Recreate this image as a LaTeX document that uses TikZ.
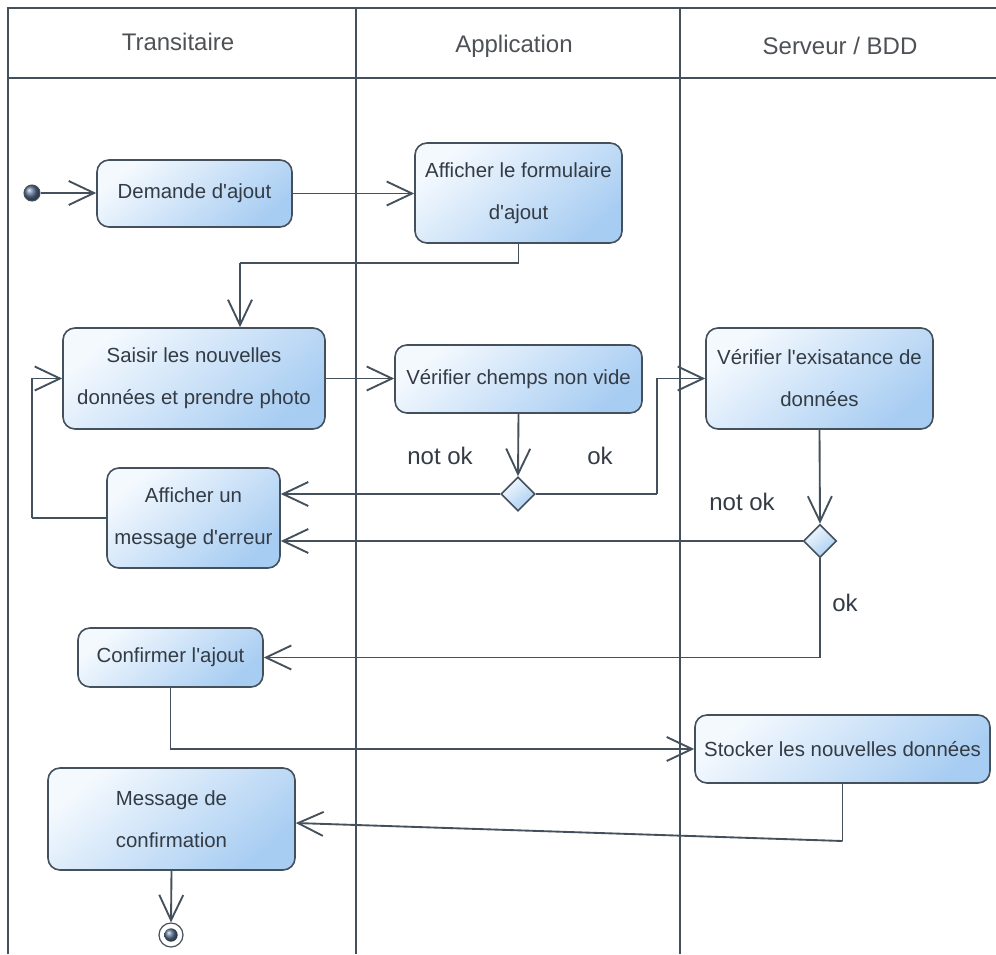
\documentclass[tikz,border=0pt]{standalone}
\usepackage{fontspec}
\setmainfont{Liberation Sans}
\usetikzlibrary{arrows.meta,shapes.geometric}
\definecolor{linec}{HTML}{44505C}
\definecolor{txt}{HTML}{333B44}
\definecolor{hdr}{HTML}{4E5256}
\definecolor{filltop}{HTML}{F4F9FE}
\definecolor{fillbot}{HTML}{A8CDF2}
\definecolor{dotc}{HTML}{5C7394}
\newcommand{\ap}{\textquotesingle}
\begin{document}
\begin{tikzpicture}[x=0.75pt,y=-0.75pt,
  lane/.style={draw=linec,line width=1.1pt},
  hdrtext/.style={text=hdr,font=\fontsize{18}{20}\selectfont},
  act/.style={draw=linec,line width=1.2pt,rounded corners=9pt,
    top color=filltop,bottom color=fillbot,shading angle=40,
    align=center,text=txt,inner sep=0pt,
    font=\fontsize{15.3}{31.5}\selectfont},
  decision/.style={diamond,draw=linec,line width=1.2pt,inner sep=0pt,
    top color=filltop,bottom color=fillbot,shading angle=40},
  guard/.style={text=txt,font=\fontsize{18}{20}\selectfont},
  arr/.style={draw=linec,line width=1.4pt,
    -{Straight Barb[length=19pt,width=18pt]}},
  flow/.style={draw=linec,line width=1.4pt}]
\useasboundingbox (0,0) rectangle (996,954);
\fill[white] (0,0) rectangle (996,954);

% swimlanes
\draw[lane] (8,954) -- (8,8) -- (996,8);
\draw[lane] (8,78) -- (996,78);
\draw[lane] (356,8) -- (356,954);
\draw[lane] (680,8) -- (680,954);
\node[hdrtext] (h1) at (178,42) {Transitaire};
\node[hdrtext] (h2) at (514,46) {Application};
\node[hdrtext] (h3) at (840,46) {Serveur / BDD};

% activities
\node[circle,draw=linec,line width=0.8pt,ball color=dotc,minimum size=12pt,inner sep=0pt] (init) at (32,193) {};
\node[act,minimum width=0.75*195pt,minimum height=0.75*67pt] (dem) at (194.5,193.5) {Demande d\ap ajout};
\node[act,minimum width=0.75*207pt,minimum height=0.75*100pt] (form) at (518.5,193) {Afficher le formulaire\\d\ap ajout};
\node[act,minimum width=0.75*262pt,minimum height=0.75*101pt] (saisir) at (194,378.5) {Saisir les nouvelles\\données et prendre photo};
\node[act,minimum width=0.75*247pt,minimum height=0.75*68pt] (verif) at (518.5,379) {Vérifier chemps non vide};
\node[act,minimum width=0.75*227pt,minimum height=0.75*101pt] (exist) at (819.5,378.5) {Vérifier l\ap exisatance de\\données};
\node[decision,minimum width=0.75*34pt,minimum height=0.75*34pt] (d1) at (518,494) {};
\node[decision,minimum width=0.75*33pt,minimum height=0.75*33pt] (d2) at (820,541) {};
\node[act,minimum width=0.75*173pt,minimum height=0.75*100pt] (err) at (193.5,518) {Afficher un\\message d\ap erreur};
\node[act,minimum width=0.75*185pt,minimum height=0.75*59pt] (conf) at (170.5,657.5) {Confirmer l\ap ajout};
\node[act,minimum width=0.75*295pt,minimum height=0.75*68pt] (stock) at (842.5,749) {Stocker les nouvelles données};
\node[act,minimum width=0.75*247pt,minimum height=0.75*102pt] (msg) at (171.5,819) {Message de\\confirmation};
\node[circle,draw=linec,line width=0.9pt,fill=white,minimum size=18pt,inner sep=0pt] (fin) at (171,935) {};
\node[circle,ball color=dotc,minimum size=10pt,inner sep=0pt] (finin) at (fin.center) {};

% bend points
\coordinate (k1) at (240,263);
\coordinate (k2) at (657,494);
\coordinate (k3) at (32,518);
\coordinate (k4) at (842.5,841);

% flows
\draw[arr] (init) -- (init -| dem.west);
\draw[arr] (dem.east) -- (dem.east -| form.west);
\draw[flow] (form.south) |- (k1);
\draw[arr] (k1) -- (k1 |- saisir.north);
\draw[arr] (saisir.east) -- (saisir.east -| verif.west);
\draw[arr] (verif.south) -- (d1.north);
\draw[arr] (d1.west) -- (d1.west -| err.east);
\draw[flow] (d1.east) -- (k2);
\draw[arr] (k2) |- (exist.west);
\draw[arr] (exist.south) -- (d2.north);
\draw[arr] (d2.west) -- (d2.west -| err.east);
\draw[arr] (d2.south) |- (conf.east);
\draw[flow] (err.west) -- (k3);
\draw[arr] (k3) |- (saisir.west);
\draw[arr] (conf.south) |- (stock.west);
\draw[flow] (stock.south) -- (k4);
\draw[arr] (k4) -- ([yshift=-3pt]msg.east);
\draw[arr] (msg.south) -- (fin.north);

% guards
\node[guard] (g1) at (440,456) {not ok};
\node[guard] (g2) at (600,456) {ok};
\node[guard] (g3) at (742,502) {not ok};
\node[guard] (g4) at (845,603) {ok};
\end{tikzpicture}
\end{document}
